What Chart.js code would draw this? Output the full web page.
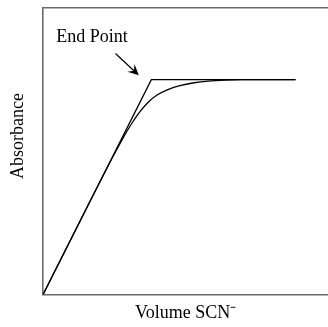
<!DOCTYPE html>
<html>
<head>
<meta charset="utf-8">
<script src="https://cdn.jsdelivr.net/npm/chart.js@4/dist/chart.umd.min.js"></script>
<style>
  html, body { margin: 0; padding: 0; background: #fff; }
  #wrap { width: 328px; height: 327px; }
</style>
</head>
<body>
<div id="wrap"><canvas id="absChart" width="328" height="327"></canvas></div>
<script>
// ideal titration: straight rise then flat plateau
const idealX = [0, 38, 88.6];
const idealY = [0, 75, 75];

// measured curve rounding off near the end point
const curveX = [0, 12, 25, 28, 31, 34, 37, 40, 44, 48, 53, 58, 64, 70, 80, 88.6];
const curveY = [0, 23.7, 49, 54.5, 59.5, 63.8, 67.2, 69.6, 71.6, 72.9, 73.9, 74.5, 74.85, 75, 75, 75];

// annotation (data units)
const labelText = "End Point";
const labelAt = [17.2, 88.2];
const arrowFrom = [25.4, 84.1];
const arrowTo = [33.6, 76.5];

// y axis title sits a bit above the middle of the axis
const yTitle = "Absorbance";
const yTitleAt = 55.3;

const serif = "'Liberation Serif', 'Times New Roman', serif";

const toPoints = (xs, ys) => xs.map((x, i) => ({ x: x, y: ys[i] }));

// draws the y title, the "End Point" label and its arrow
const endPointNote = {
  id: "endPointNote",
  afterDatasetsDraw(chart) {
    const ctx = chart.ctx;
    const xs = chart.scales.x, ys = chart.scales.y;
    ctx.save();
    ctx.fillStyle = "#000";
    ctx.font = "18px " + serif;
    ctx.textAlign = "center";
    ctx.textBaseline = "middle";

    ctx.save();
    ctx.translate(18, ys.getPixelForValue(yTitleAt));
    ctx.rotate(-Math.PI / 2);
    ctx.fillText(yTitle, 0, 0);
    ctx.restore();

    ctx.textBaseline = "alphabetic";
    ctx.fillText(labelText, xs.getPixelForValue(labelAt[0]), ys.getPixelForValue(labelAt[1]));

    const x1 = xs.getPixelForValue(arrowFrom[0]), y1 = ys.getPixelForValue(arrowFrom[1]);
    const x2 = xs.getPixelForValue(arrowTo[0]), y2 = ys.getPixelForValue(arrowTo[1]);
    const ang = Math.atan2(y2 - y1, x2 - x1);
    ctx.strokeStyle = "#000";
    ctx.lineWidth = 1.2;
    ctx.beginPath();
    ctx.moveTo(x1, y1);
    ctx.lineTo(x2 - 6 * Math.cos(ang), y2 - 6 * Math.sin(ang));
    ctx.stroke();
    // arrow head
    const len = 12, spread = 0.45;
    ctx.beginPath();
    ctx.moveTo(x2, y2);
    ctx.lineTo(x2 - len * Math.cos(ang - spread), y2 - len * Math.sin(ang - spread));
    ctx.lineTo(x2 - 0.55 * len * Math.cos(ang), y2 - 0.55 * len * Math.sin(ang));
    ctx.lineTo(x2 - len * Math.cos(ang + spread), y2 - len * Math.sin(ang + spread));
    ctx.closePath();
    ctx.fill();
    ctx.restore();
  }
};

const axisBorder = { display: true, color: "#6b6b6b", width: 1.6 };

new Chart(document.getElementById("absChart"), {
  type: "line",
  data: {
    datasets: [
      {
        label: "ideal",
        data: toPoints(idealX, idealY),
        borderColor: "#000",
        borderWidth: 1.3,
        pointRadius: 0,
        tension: 0,
        fill: false
      },
      {
        label: "measured",
        data: toPoints(curveX, curveY),
        borderColor: "#000",
        borderWidth: 1.3,
        pointRadius: 0,
        cubicInterpolationMode: "monotone",
        fill: false
      }
    ]
  },
  options: {
    responsive: false,
    animation: false,
    layout: { padding: { left: 0, right: 0, top: 0, bottom: 0 } },
    plugins: {
      legend: { display: false },
      tooltip: { enabled: false }
    },
    scales: {
      x: {
        type: "linear",
        min: 0,
        max: 100,
        grid: { display: false },
        ticks: { display: false },
        border: axisBorder,
        title: {
          display: true,
          text: "Volume SCN\u207B",
          color: "#000",
          font: { family: serif, size: 18 },
          padding: { top: 0, bottom: 3 }
        }
      },
      xTop: {
        type: "linear",
        position: "top",
        min: 0,
        max: 100,
        grid: { display: false },
        ticks: { display: false },
        border: axisBorder
      },
      y: {
        type: "linear",
        min: 0,
        max: 100,
        grid: { display: false },
        ticks: { display: false },
        border: axisBorder,
        title: {
          // space only; the text itself is drawn by endPointNote
          display: true,
          text: " ",
          font: { family: serif, size: 18 },
          padding: { top: 7, bottom: 6.5 }
        }
      }
    }
  },
  plugins: [endPointNote]
});
</script>
</body>
</html>
